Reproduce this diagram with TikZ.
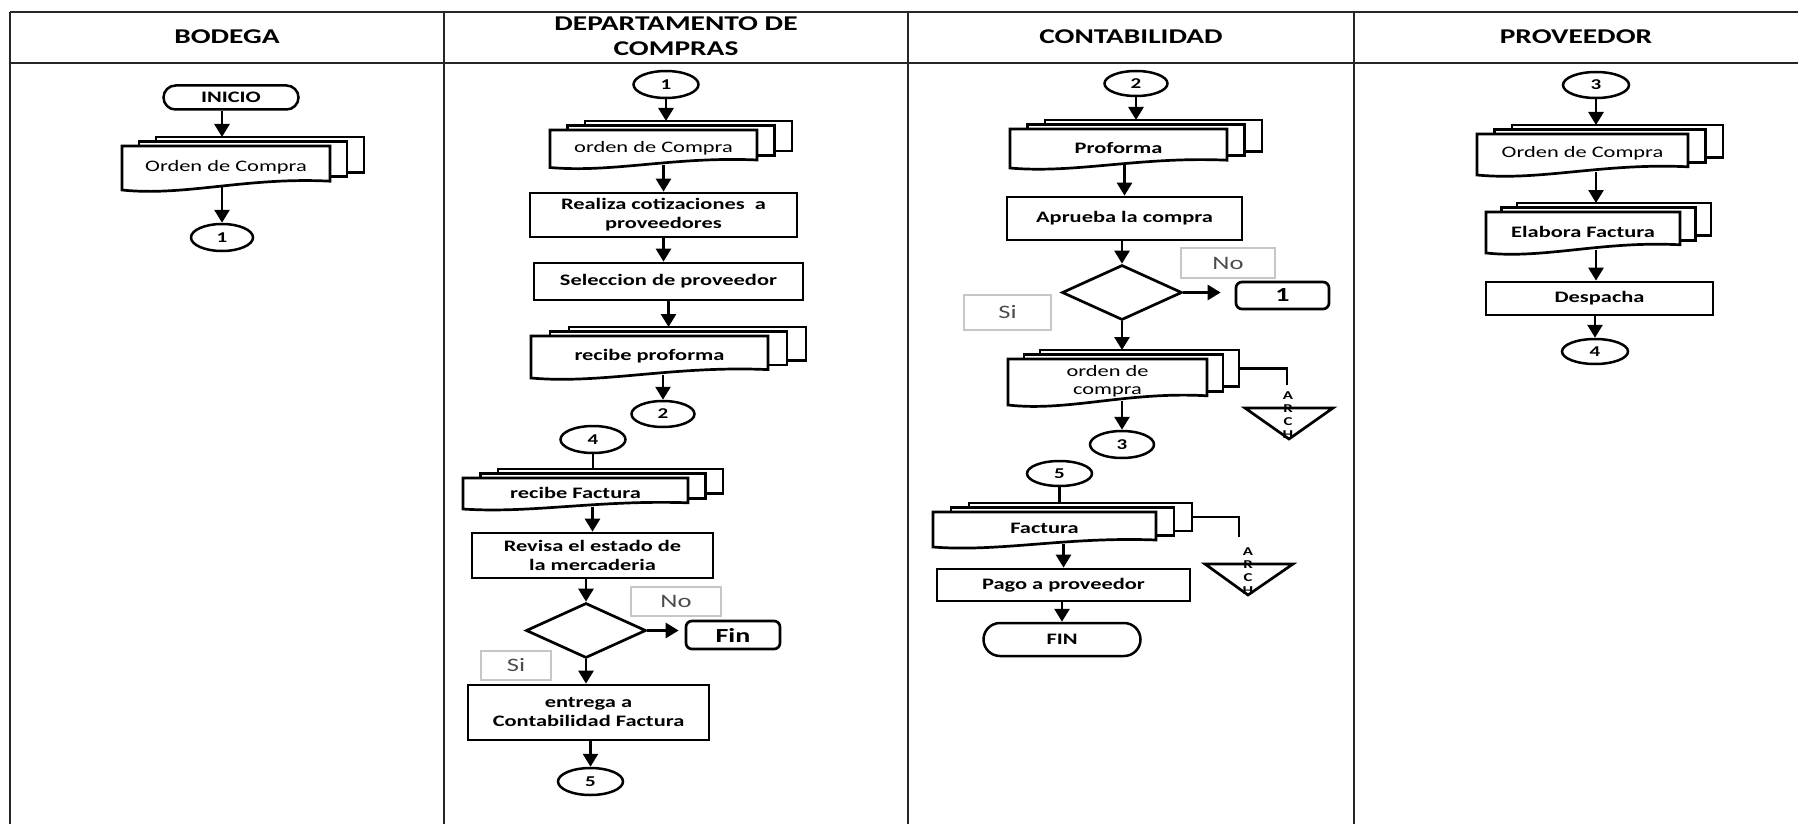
\documentclass[tikz,border=0pt]{standalone}
\usepackage{fontspec}
\setmainfont{Carlito}[FakeStretch=1.4]
\usetikzlibrary{shapes.geometric,shapes.misc,arrows.meta}

% multi-document symbol: two back sheets and a front sheet with a wavy lower edge
% #1 name, #2 left, #3 top, #4 width, #5 height, #6 sheet offset, #7 text style, #8 text
\newcommand\docstack[8]{%
  \draw[sheet] ({#2+2*#6},{#3-9}) rectangle ({#2+#4+2*#6},{#3-9+0.8*#5});
  \draw[sheet] ({#2+#6},{#3-4.5}) rectangle ({#2+#4+#6},{#3-4.5+0.8*#5});
  \draw[sheet] (#2,#3) -- ({#2+#4},#3) -- ({#2+#4},{#3+0.8*#5})
     .. controls ({#2+0.6*#4},{#3+0.7*#5}) and ({#2+0.3*#4},{#3+1.15*#5}) .. (#2,{#3+#5}) -- cycle;
  \node[#7] (#1) at ({#2+#4/2},{#3+0.48*#5}) {#8};
  \coordinate (#1-t) at ({#2+#4/2},{#3-9});
  \coordinate (#1-b) at ({#2+0.46*#4},{#3+0.92*#5});
  \coordinate (#1-r) at ({#2+#4+2*#6},{#3-9+0.4*#5});
}

\tikzset{
  lane/.style={line width=1.1pt, draw=black!85},
  arr/.style={line width=1.35pt, -{Triangle[length=6.5pt,width=7.5pt]}},
  link/.style={line width=1.35pt},
  sheet/.style={draw, line width=1.35pt, fill=white},
  doctxtR/.style={align=center, inner sep=0pt, font=\fontsize{8}{9}\selectfont},
  doctxtB/.style={align=center, inner sep=0pt, font=\fontsize{8}{9}\selectfont\bfseries},
  proc/.style={draw, line width=1.35pt, fill=white, align=center, inner sep=1pt,
               font=\fontsize{8}{9.5}\selectfont\bfseries},
  conn/.style={ellipse, draw, line width=1.25pt, inner sep=0pt, font=\fontsize{7.5}{8}\selectfont\bfseries},
  term/.style={rounded rectangle, draw, line width=1.25pt, inner sep=0pt, font=\fontsize{8}{9}\selectfont\bfseries},
  decis/.style={diamond, draw, line width=1.35pt, inner sep=0pt},
  tag/.style={draw=black!22, line width=0.6pt, inner sep=0pt, text=black!70, font=\fontsize{9.5}{10}\selectfont},
  endbox/.style={draw, rounded corners=3pt, line width=1.35pt, inner sep=0pt, font=\fontsize{10}{11}\selectfont\bfseries},
  head/.style={align=center, font=\fontsize{10.5}{12.5}\selectfont\bfseries},
  archtxt/.style={align=center, inner sep=0pt, font=\fontsize{6}{6.5}\selectfont\bfseries},
}

\begin{document}
\begin{tikzpicture}[x=0.5pt, y=-0.5pt]
\useasboundingbox (0,0) rectangle (1798,824);

% swimlane frame
\draw[lane] (10,12) -- (1798,12);
\draw[lane] (10,63) -- (1798,63);
\draw[lane] (10,12) -- (10,824);
\draw[lane] (444,12) -- (444,824);
\draw[lane] (908,12) -- (908,824);
\draw[lane] (1354,12) -- (1354,824);

\node[head] (hB) at (227,37) {BODEGA};
\node[head] (hD) at (676,36.5) {DEPARTAMENTO DE\\COMPRAS};
\node[head] (hC) at (1131,37) {CONTABILIDAD};
\node[head] (hP) at (1576,37) {PROVEEDOR};

% ---------------- BODEGA
\node[term, minimum width=67.5pt, minimum height=12pt] (inicio) at (231,97.5) {INICIO};
\docstack{ocB}{122}{146}{208}{44}{17}{doctxtR}{Orden de Compra}
\node[conn, minimum width=31pt, minimum height=13.5pt] (c1B) at (222,237.5) {1};
\draw[arr] (inicio.south -| c1B.north) -- (ocB-t -| c1B.north);
\draw[arr] (c1B.north |- ocB-b) -- (c1B.north);

% ---------------- DEPARTAMENTO DE COMPRAS
\node[conn, minimum width=32.5pt, minimum height=13.5pt] (c1D) at (666,84.5) {1};
\docstack{ocD}{550}{130}{207}{37.5}{17.5}{doctxtR}{orden de Compra}
\draw[arr] (c1D.south) -- (c1D.south |- ocD-t);
\node[proc, minimum width=133.5pt, minimum height=22pt] (cotiz) at (663.5,215) {Realiza cotizaciones\ \ a\\proveedores};
\draw[arr] (cotiz.north |- ocD-b) -- (cotiz.north);
\node[proc, minimum width=134.5pt, minimum height=18.5pt] (selec) at (668.5,281.5) {Seleccion de proveedor};
\draw[arr] (cotiz.south) -- (cotiz.south |- selec.north);
\docstack{rpD}{531}{336}{237}{42}{19}{doctxtB}{recibe proforma}
\draw[arr] (selec.south) -- (selec.south |- rpD-t);
\node[conn, minimum width=31.5pt, minimum height=13pt] (c2D) at (663,414) {2};
\draw[arr] (c2D.north |- rpD-b) -- (c2D.north);

\node[conn, minimum width=32.5pt, minimum height=13.5pt] (c4D) at (593,439.5) {4};
\docstack{rfD}{463}{478}{225}{31}{17.5}{doctxtB}{recibe Factura}
\draw[link] (c4D.south) -- (c4D.south |- rfD-t);
\node[proc, minimum width=120.5pt, minimum height=22.5pt] (revisa) at (592.5,555.5) {Revisa el estado de\\la mercaderia};
\draw[arr] (revisa.north |- rfD-b) -- (revisa.north);
\node[decis, minimum width=60pt, minimum height=27.5pt] (decD) at (586,630.5) {};
\draw[arr] (decD.north |- revisa.south) -- (decD.north);
\node[endbox, minimum width=47pt, minimum height=14pt] (fin1) at (733,635) {Fin};
\draw[arr, shorten >=3pt] (decD.east) -- (decD.east -| fin1.west);
\node[tag, minimum width=45pt, minimum height=14.5pt] (noD) at (676,601.5) {No};
\node[tag, minimum width=35pt, minimum height=14.5pt] (siD) at (516,665.5) {Si};
\node[proc, minimum width=120.5pt, minimum height=27.5pt] (entrega) at (588.5,712.5) {entrega a\\Contabilidad Factura};
\draw[arr] (decD.south) -- (decD.south |- entrega.north);
\node[conn, minimum width=32.5pt, minimum height=13.5pt] (c5D) at (590.5,781.5) {5};
\draw[arr] (c5D.north |- entrega.south) -- (c5D.north);

% ---------------- CONTABILIDAD
\node[conn, minimum width=31.5pt, minimum height=12.5pt] (c2C) at (1136,83.5) {2};
\docstack{pfC}{1010}{129}{217}{39}{17.5}{doctxtB}{Proforma}
\draw[arr] (c2C.south) -- (c2C.south |- pfC-t);
\node[proc, minimum width=117.5pt, minimum height=21.5pt] (aprueba) at (1124.5,218.5) {Aprueba la compra};
\draw[arr] (aprueba.north |- pfC-b) -- (aprueba.north);
\node[decis, minimum width=60pt, minimum height=27.5pt] (decC) at (1122,292.5) {};
\draw[arr] (decC.north |- aprueba.south) -- (decC.north);
\node[endbox, minimum width=46.5pt, minimum height=13.5pt] (go1) at (1282.5,295.5) {1};
\draw[arr, shorten >=7pt] (decC.east) -- (decC.east -| go1.west);
\node[tag, minimum width=47pt, minimum height=15pt] (noC) at (1228,263) {No};
\node[tag, minimum width=43.5pt, minimum height=17.5pt] (siC) at (1007.5,312.5) {Si};
\docstack{ocC}{1008}{359}{199}{46}{16}{doctxtR}{orden de\\compra}
\draw[arr] (decC.south) -- (decC.south |- ocC-t);
\node[conn, minimum width=32pt, minimum height=13.5pt] (c3C) at (1122,444.5) {3};
\draw[arr] (c3C.north |- ocC-b) -- (c3C.north);

% archive for the purchase order
\draw[link, fill=white] (1245,408) -- (1333,408) -- (1289,439) -- cycle;
\coordinate (ar1e) at (1287,385);
\draw[link] (ocC-r) -| (ar1e);
\begin{scope}
  \clip (1270,380) rectangle (1310,441);
  \node[archtxt] (ar1t) at (1288,415.5) {A\\R\\C\\H};
\end{scope}

\node[conn, minimum width=32.5pt, minimum height=12.5pt] (c5C) at (1059.5,473.5) {5};
\docstack{fcC}{933}{512}{223}{35}{18}{doctxtB}{Factura}
\draw[link] (c5C.south) -- (c5C.south |- fcC-t);

% archive for the invoice
\draw[link, fill=white] (1205,564) -- (1293,564) -- (1248,595) -- cycle;
\coordinate (ar2e) at (1239,537);
\draw[link] (fcC-r) -| (ar2e);
\begin{scope}
  \clip (1230,536) rectangle (1270,597);
  \node[archtxt] (ar2t) at (1248,571.5) {A\\R\\C\\H};
\end{scope}

\node[proc, minimum width=126.5pt, minimum height=16pt] (pago) at (1063.5,585) {Pago a proveedor};
\draw[arr] (pago.north |- fcC-b) -- (pago.north);
\node[term, minimum width=78.5pt, minimum height=16.5pt] (fin2) at (1062,639.5) {FIN};
\draw[arr] (fin2.north |- pago.south) -- (fin2.north);

% ---------------- PROVEEDOR
\node[conn, minimum width=33pt, minimum height=13pt] (c3P) at (1596,85) {3};
\docstack{ocP}{1477}{134}{211}{41}{17.5}{doctxtR}{Orden de Compra}
\draw[arr] (c3P.south) -- (c3P.south |- ocP-t);
\docstack{efP}{1486}{212}{194}{41}{15.5}{doctxtB}{Elabora Factura}
\draw[arr] (ocP-b -| c3P.south) -- (efP-t -| c3P.south);
\node[proc, minimum width=113.5pt, minimum height=16.5pt] (desp) at (1599.5,298.5) {Despacha};
\draw[arr] (efP-b -| c3P.south) -- (desp.north -| c3P.south);
\node[conn, minimum width=33pt, minimum height=12.5pt] (c4P) at (1595,351.5) {4};
\draw[arr] (c4P.north |- desp.south) -- (c4P.north);
\end{tikzpicture}
\end{document}
